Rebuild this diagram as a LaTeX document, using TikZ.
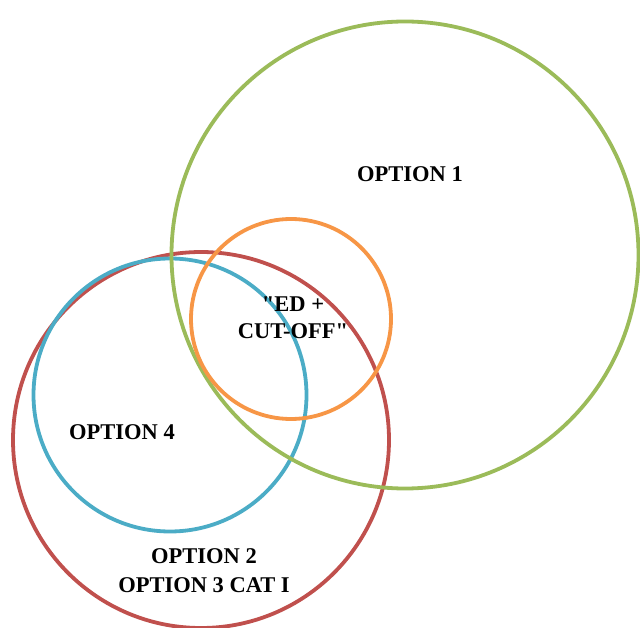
\documentclass[tikz,border=0pt]{standalone}
\usepackage{fontspec}
\setmainfont{Liberation Serif}[Ligatures=TeXOff]

\definecolor{optgreen}{HTML}{9BBB59}
\definecolor{optred}{HTML}{C0504D}
\definecolor{optblue}{HTML}{4BACC6}
\definecolor{optorange}{HTML}{F79646}

\begin{document}
\begin{tikzpicture}[x=1pt,y=-1pt,
  ring/.style={circle,draw=#1,line width=3.8pt,inner sep=0pt},
  lbl/.style={font=\fontsize{22.5}{27}\selectfont\bfseries,align=center,inner sep=0pt}]
  \useasboundingbox (0,0) rectangle (640,628);
  \node[ring=optred,   minimum size=376pt] (opt2)  at (201,440) {};
  \node[ring=optblue,  minimum size=273pt] (opt4)  at (170,395) {};
  \node[ring=optgreen, minimum size=467pt] (opt1)  at (405,255) {};
  \node[ring=optorange,minimum size=200pt] (edcut) at (291,319) {};
  \node[lbl] (t1) at (410,174) {OPTION 1};
  \node[lbl] (t2) at (293,318) {"ED +\\CUT-OFF"};
  \node[lbl] (t4) at (122,432) {OPTION 4};
  \node[lbl,font=\fontsize{22.5}{29}\selectfont\bfseries] (t3) at (204,571) {OPTION 2\\OPTION 3 CAT I};
\end{tikzpicture}
\end{document}
